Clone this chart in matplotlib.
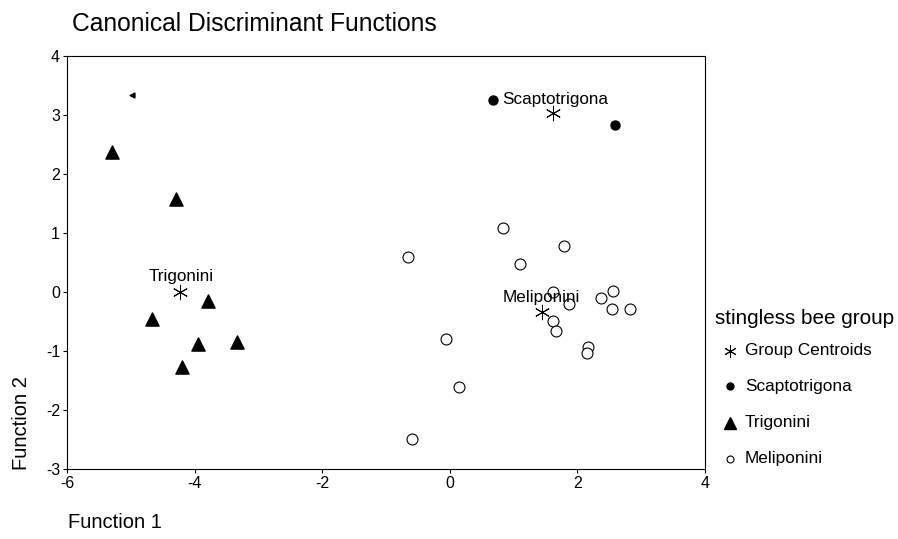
import matplotlib
matplotlib.use("Agg")
import matplotlib.pyplot as plt
from matplotlib.lines import Line2D

plt.rcParams['font.family'] = ['Liberation Sans', 'DejaVu Sans']

# Data
scapto_x = [0.68, 2.59]
scapto_y = [3.25, 2.83]
trig_x = [-5.29, -4.29, -3.79, -4.67, -3.95, -3.33, -4.20]
trig_y = [2.37, 1.58, -0.15, -0.46, -0.88, -0.85, -1.27]
stray_x = [-4.98]
stray_y = [3.34]
meli_x = [0.83, 1.79, -0.66, 1.10, 1.62, 2.56, 2.37, 1.87, 2.54, 2.82,
          1.62, 1.66, 2.17, 2.15, -0.06, 0.14, -0.59]
meli_y = [1.08, 0.78, 0.59, 0.47, 0.00, 0.02, -0.10, -0.20, -0.29, -0.29,
          -0.49, -0.66, -0.93, -1.03, -0.80, -1.61, -2.49]
centroid_names = ["Scaptotrigona", "Trigonini", "Meliponini"]
centroid_x = [1.62, -4.23, 1.45]
centroid_y = [3.03, 0.00, -0.34]

xticks = [-6, -4, -2, 0, 2, 4]
yticks = [-3, -2, -1, 0, 1, 2, 3, 4]

legend_title = "stingless bee group"
legend_labels = ["Group Centroids", "Scaptotrigona", "Trigonini", "Meliponini"]

W, H = 898, 539
fig = plt.figure(figsize=(W / 100, H / 100), dpi=100)
ax = fig.add_axes([67 / W, 1 - 469 / H, (705 - 67) / W, (469 - 56) / H])

star = (6, 2, 0)
ax.scatter(centroid_x, centroid_y, marker=star, s=110, c='black', linewidths=0.7, zorder=3)
ax.scatter(scapto_x, scapto_y, marker='o', s=42, c='black', zorder=3)
ax.scatter(trig_x, trig_y, marker='^', s=90, c='black', zorder=3)
ax.scatter(stray_x, stray_y, marker='<', s=12, c='black', zorder=3)
ax.scatter(meli_x, meli_y, marker='o', s=62, facecolors='white', edgecolors='black',
           linewidths=0.8, zorder=3)

# centroid labels
ax.text(centroid_x[0] - 0.80, centroid_y[0] + 0.23, centroid_names[0], fontsize=12.3,
        ha='left', va='center')
ax.text(centroid_x[1] + 0.02, centroid_y[1] + 0.26, centroid_names[1], fontsize=12.3,
        ha='center', va='center')
ax.text(centroid_x[2] - 0.02, centroid_y[2] + 0.25, centroid_names[2], fontsize=12.3,
        ha='center', va='center')

ax.set_xlim(-6, 4)
ax.set_ylim(-3, 4)
ax.set_xticks(xticks)
ax.set_yticks(yticks)
ax.set_xticklabels([str(t) for t in xticks], fontsize=11.5)
ax.set_yticklabels([str(t) for t in yticks], fontsize=11.5)
ax.tick_params(direction='out', length=3, width=0.8, pad=2)
for s in ax.spines.values():
    s.set_linewidth(0.8)

fig.text(72 / W, 1 - 31 / H, "Canonical Discriminant Functions", fontsize=17.7,
         ha='left', va='baseline')
fig.text(12 / W, 1 - 423 / H, "Function 2", fontsize=14.5, rotation=90,
         ha='left', va='center')
fig.text(68 / W, 1 - 523 / H, "Function 1", fontsize=14.5, ha='left', va='center')

# legend drawn manually
fig.text(715 / W, 1 - 318 / H, legend_title, fontsize=14.9, ha='left', va='center')
handle_specs = [
    dict(marker=star, color='black', markersize=9, markeredgewidth=0.7),
    dict(marker='o', color='black', markersize=5),
    dict(marker='^', color='black', markersize=8),
    dict(marker='o', markerfacecolor='white', markeredgecolor='black',
         markersize=5, markeredgewidth=0.8),
]
ys = [351, 386, 423, 459]
for lab, spec, yy in zip(legend_labels, handle_specs, ys):
    fig.add_artist(Line2D([730 / W], [1 - yy / H], linestyle='none',
                          transform=fig.transFigure, **spec))
    fig.text(745 / W, 1 - yy / H, lab, fontsize=12.4, ha='left', va='center')

fig.savefig("out.png", dpi=100)
